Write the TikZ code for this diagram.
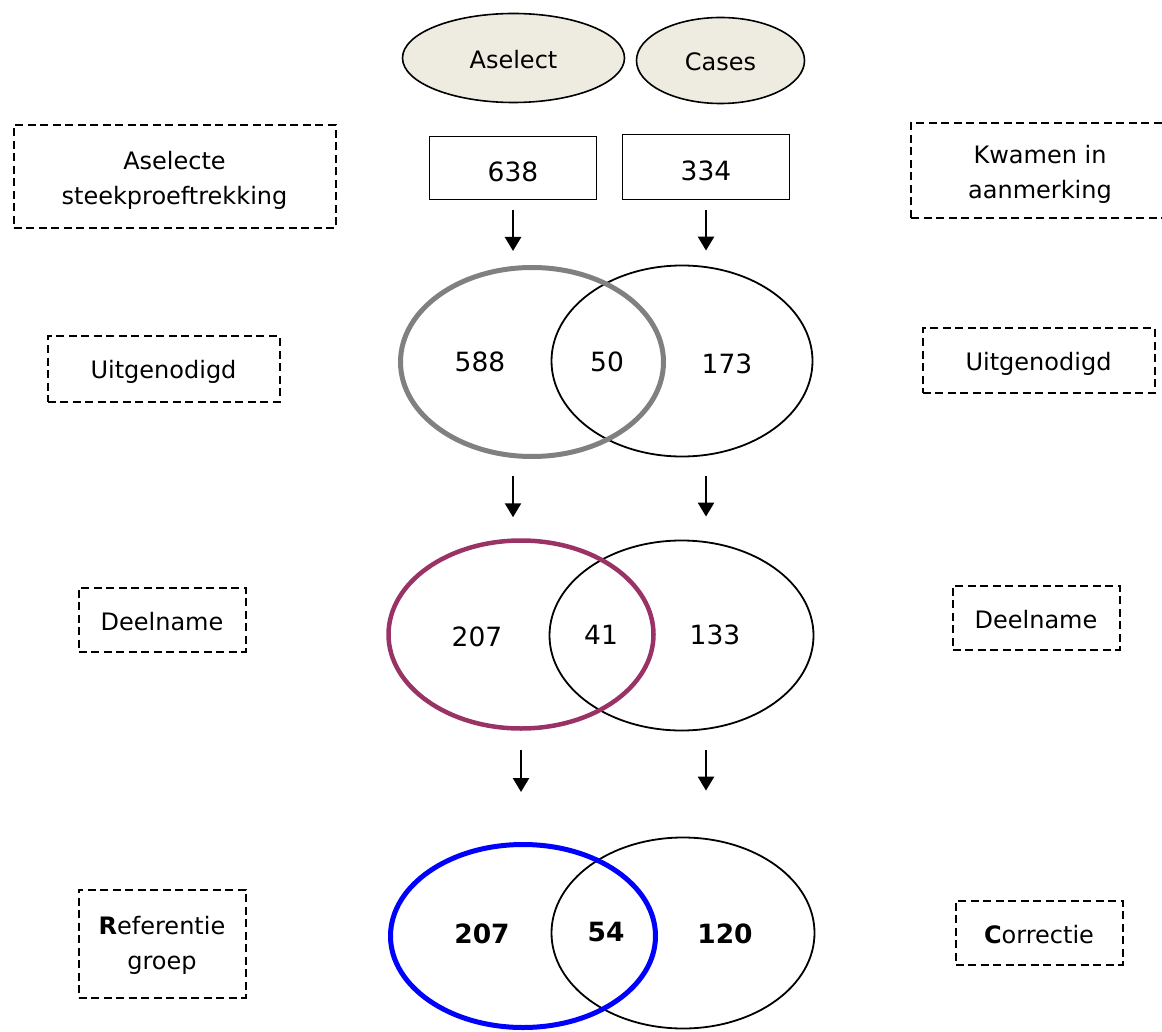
\documentclass[tikz,border=0pt]{standalone}
\usepackage{fontspec}
\setmainfont{DejaVu Sans}
\usetikzlibrary{shapes.geometric,arrows.meta}
\definecolor{srcfill}{HTML}{EEECE1}
\definecolor{plum}{HTML}{993366}
\begin{document}
\begin{tikzpicture}[x=1pt,y=-1pt,
  lbl/.style={draw, dash pattern=on 8pt off 4.5pt, line width=2pt, inner sep=0pt, align=center, font=\fontsize{24}{35}\selectfont},
  lbltext/.style={inner sep=0pt, align=center, font=\fontsize{24}{35}\selectfont},
  numbox/.style={draw, line width=1.8pt, inner sep=0pt, minimum width=167pt},
  src/.style={ellipse, draw, fill=srcfill, line width=1.6pt, inner sep=0pt},
  srctext/.style={inner sep=0pt, font=\fontsize{24}{28}\selectfont},
  venn/.style={ellipse, draw, line width=1.8pt, inner sep=0pt},
  vennc/.style={ellipse, draw, line width=5pt, inner sep=0pt},
  num/.style={inner sep=0pt, font=\fontsize{26.5}{30}\selectfont},
  bnum/.style={inner sep=0pt, font=\fontsize{26.5}{30}\selectfont\bfseries},
  arr/.style={line width=2.5pt, -{Triangle[width=16pt,length=14pt]}}]
\useasboundingbox (0,0) rectangle (1162,1032);

% source ellipses
\node[src, minimum width=222pt, minimum height=89pt] (sa) at (513.5,58) {};
\node[srctext] (sat) at (513.5,60) {Aselect};
\node[src, minimum width=168pt, minimum height=86pt] (sc) at (720.5,60.5) {};
\node[srctext] (sct) at (720.5,62) {Cases};

% number boxes
\node[numbox, minimum height=63pt] (b1) at (513,168) {};
\node[num] (b1t) at (513,172) {638};
\node[numbox, minimum height=65pt] (b2) at (706,167) {};
\node[num] (b2t) at (706,171) {334};

% venn row 1
\node[venn, minimum width=261pt, minimum height=191pt] (f1) at (682,361) {};
\node[vennc, draw=gray, minimum width=263pt, minimum height=189pt] (e1) at (532,362) {};
\node[num] (n1a) at (480,362) {588};
\node[num] (n1b) at (607,362) {50};
\node[num] (n1c) at (727,364) {173};

% venn row 2
\node[venn, minimum width=264pt, minimum height=190pt] (f2) at (681.5,635.5) {};
\node[vennc, draw=plum, line width=4.5pt, minimum width=265pt, minimum height=188pt] (e2) at (521,634.5) {};
\node[num] (n2a) at (477,637) {207};
\node[num] (n2b) at (601,635) {41};
\node[num] (n2c) at (715,635) {133};

% venn row 3
\node[venn, minimum width=263pt, minimum height=191pt] (f3) at (683,933) {};
\node[vennc, draw=blue, minimum width=265pt, minimum height=183pt] (e3) at (523,936) {};
\node[bnum] (n3a) at (482,934) {207};
\node[bnum] (n3b) at (606,932) {54};
\node[bnum] (n3c) at (725,934) {120};

% arrows
\draw[arr, shorten <=10pt, shorten >=14pt] (b1.south) -- (b1.south |- e1.north);
\draw[arr, shorten <=10pt, shorten >=14pt] (b2.south) -- (b2.south |- f1.north);
\draw[arr, shorten <=17pt, shorten >=21pt] (b1.south |- e1.south) -- (b1.south |- e2.north);
\draw[arr, shorten <=19pt, shorten >=23pt] (b2.south |- f1.south) -- (b2.south |- f2.north);
\draw[arr, shorten <=19pt, shorten >=50pt] (e2.south) -- (e2.south |- e3.north);
\draw[arr, shorten <=19pt, shorten >=46pt] (b2.south |- f2.south) -- (b2.south |- f3.north);

% left labels
\node[lbl, minimum width=322pt, minimum height=103pt] (l1) at (174.5,177) {};
\node[lbltext] (l1t) at (174.5,180) {Aselecte\\steekproeftrekking};
\node[lbl, minimum width=232pt, minimum height=65pt] (l2) at (163.5,369) {};
\node[lbltext] (l2t) at (163.5,372) {Uitgenodigd};
\node[lbl, minimum width=167pt, minimum height=64pt] (l3) at (162,619.5) {};
\node[lbltext] (l3t) at (162,622) {Deelname};
\node[lbl, minimum width=167pt, minimum height=108pt] (l4) at (162,943.5) {};
\node[lbltext] (l4t) at (162,945) {\textbf{R}eferentie\\groep};

% right labels
\node[lbl, minimum width=259pt, minimum height=95pt] (r1) at (1040.5,170.5) {};
\node[lbltext] (r1t) at (1040,174) {Kwamen in\\aanmerking};
\node[lbl, minimum width=232pt, minimum height=64pt] (r2) at (1038.5,360.5) {};
\node[lbltext] (r2t) at (1038.5,364) {Uitgenodigd};
\node[lbl, minimum width=167pt, minimum height=64pt] (r3) at (1036,617.5) {};
\node[lbltext] (r3t) at (1036,620) {Deelname};
\node[lbl, minimum width=167pt, minimum height=64pt] (r4) at (1039,932.5) {};
\node[lbltext] (r4t) at (1039,935) {\textbf{C}orrectie};
\end{tikzpicture}
\end{document}
